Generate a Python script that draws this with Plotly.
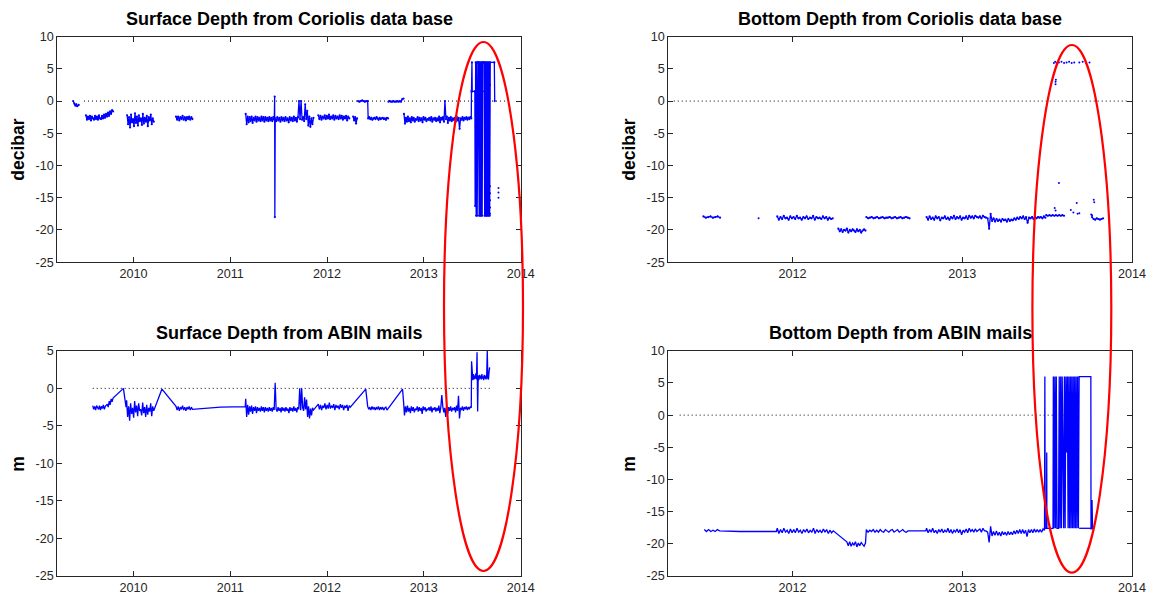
import numpy as np
import plotly.graph_objects as go

# ---------------------------------------------------------------- figure frame
W, H = 1162, 594
BLUE = "#0000FF"
INK = "#262626"
RED = "#FF0000"

# axis ticks / labels
YEARS_LEFT = [2010, 2011, 2012, 2013, 2014]
YEARS_RIGHT = [2012, 2013, 2014]
DEPTH_TICKS_35 = [10, 5, 0, -5, -10, -15, -20, -25]
DEPTH_TICKS_30 = [5, 0, -5, -10, -15, -20, -25]

TITLES = [
    "Surface Depth from Coriolis data base",
    "Bottom Depth from Coriolis data base",
    "Surface Depth from ABIN mails",
    "Bottom Depth from ABIN mails",
]
YLABELS = ["decibar", "decibar", "m", "m"]

# ------------------------------------------------ surface depth, Coriolis (dbar)
SC_BLIP_T = [2009.378, 2009.39, 2009.40, 2009.41, 2009.42, 2009.435]
SC_BLIP_V = [0.0, -0.4, -0.7, -0.5, -0.8, -0.6]
SC_B = [-2.2, -2.9, -2.4, -2.8, -2.3, -3.0, -2.4, -2.7, -2.9, -2.3, -2.8, -2.4, -2.9, -2.2,
        -2.7, -2.8, -2.3, -2.7, -2.1, -2.6, -2.0, -2.4, -1.8, -2.3, -1.6, -2.0, -1.4, -1.6]
SC_C = [-2.2, -3.6, -2.5, -4.1, -2.1, -3.3, -2.8, -3.9, -1.9, -3.4, -2.4, -3.8, -2.2, -3.1,
        -2.7, -3.7, -2.0, -3.5, -2.6, -3.2, -2.3, -3.9, -2.5, -3.0, -2.1, -3.6, -2.7, -3.2]
SC_D = [-2.4, -2.9, -2.4, -3.0, -2.5, -2.8, -2.3, -2.9, -2.5, -3.0, -2.5, -2.8, -2.4, -2.9,
        -2.5, -2.8]
SC_E1 = [-2.0, -3.6, -2.4, -3.3, -2.5, -3.1, -2.4, -3.4, -2.6, -3.0, -2.4, -3.2, -2.5, -3.0,
         -2.6, -3.1, -2.4, -3.0, -2.5, -3.2, -2.5, -3.0, -2.6, -3.1, -2.5, -3.0, -2.6, -3.1,
         -2.5, -2.9]
SC_SPIKE_T = [2011.459, 2011.461]
SC_SPIKE_V = [0.7, -18.0]
SC_E2 = [-2.7, -3.1, -2.5, -3.0, -2.6, -3.2, -2.5, -3.0, -2.6, -3.1, -2.5, -3.0, -2.7, -3.3,
         -2.5, -3.0, -2.6, -3.1, -2.4, -3.0, -2.6, -3.2, -2.5, 0.0, -2.8, 0.0, -2.9, -2.5,
         -3.1, -0.5, -2.8, -1.5, -3.8, -2.4, -4.0, -2.7, -3.6, -2.6]
SC_F = [-2.2, -2.8, -2.3, -2.9, -2.4, -2.7, -2.2, -2.8, -2.3, -2.7, -2.1, -2.8, -2.4, -2.7,
        -2.2, -2.9, -2.3, -2.7, -2.4, -2.8, -2.2, -2.7, -2.3, -2.9, -2.4, -2.7, -2.3, -3.0,
        -2.4, -2.7]
SC_G_T = [2012.27, 2012.28, 2012.29, 2012.30, 2012.31]
SC_G_V = [-2.4, -3.0, -2.5, -3.5, -2.7]
SC_H0 = [0.0, -0.1, 0.0, 0.1, 0.0, -0.1, 0.0, 0.0]
SC_H1 = [-2.7, -2.5, -2.8, -2.6, -2.9, -2.7, -2.6, -2.8, -2.5, -2.7, -2.9, -2.6, -2.8, -2.7,
         -2.6, -2.8, -2.7, -2.9, -2.6, -2.7]
SC_I = [-0.1, 0.0, -0.1, -0.1, 0.0, -0.1, -0.1, 0.0, -0.1, 0.0, -0.1, 0.3, 0.4]
SC_J = [-2.0, -3.5, -2.6, -3.2, -2.4, -3.1, -2.7, -3.3, -2.5, -3.0, -2.6, -3.2, -2.8, -2.9,
        -2.5, -3.1, -2.6, -3.0, -2.7, -3.3, -2.5, -2.9, -2.6, -3.1, -2.8, -2.9, -2.6, -3.0,
        -2.5, -3.2, -2.7, -2.9, -2.6, -3.1, -2.7, -3.0, -2.4, -3.3, -2.6, -2.9, -2.5, -3.2,
        0.0, -2.8, -2.4, -3.4, -2.6, -3.0, -2.5, -3.1, -2.7, -2.9, -2.6, -3.2, -2.4, -3.0,
        -2.6, -4.3, -2.7, -2.9, -2.5, -3.0, -2.6, -2.8, -2.5, -2.9, -2.6, -2.8, -2.5, -2.7]
SC_K_T = [2013.492, 2013.497, 2013.500, 2013.527]
SC_K_V = [1.5, 6.0, 1.5, 1.5]
SC_BARS = [-16.3, 6.0, -17.8, 6.0, -17.8, 6.0, 6.0, 6.0, -17.8, 6.0, -17.8, 6.0, -17.8, 6.0,
           -17.8, 6.0, 6.0, 6.0, 6.0, -17.8, 6.0, -17.8, 6.0, -17.8, 6.0, -17.8, 6.0, -17.8,
           6.0, -17.8]
SC_END_T = [2013.683, 2013.686, 2013.728, 2013.732]
SC_END_V = [2.5, 6.0, 6.0, 0.0]
SC_FLAT_T = [2013.527, 2013.665]
SC_FLAT_V = [1.5, 1.5]
SC_DOTS_T = [2013.684, 2013.684, 2013.684, 2013.684, 2013.684, 2013.771, 2013.771, 2013.771]
SC_DOTS_V = [-13.2, -14.3, -15.4, -16.5, -17.5, -13.5, -14.2, -15.0]
SC_ZERO_T = [2009.49, 2013.87]

# ---------------------------------------------------- surface depth, ABIN (m)
SA_1 = [-2.3, -2.8, -2.4, -2.9, -2.3, -2.7, -2.8, -2.3, -2.9, -2.4, -2.7, -2.2, -2.8, -2.4,
        -2.3, -2.1, -2.5, -1.7, -2.2, -1.4, -1.8, -1.3]
SA_R1_T = [2009.897, 2009.924]
SA_R1_V = [0.0, -2.5]
SA_2 = [-1.6, -3.8, -2.4, -4.3, -2.0, -3.4, -2.6, -3.9, -1.7, -3.2, -2.3, -3.7, -2.0, -3.0,
        -2.8, -3.6, -1.9, -3.3, -2.5, -3.8, -2.2, -3.5, -2.6, -3.1, -2.0, -3.7, -2.4, -3.0]
SA_R2_T = [2010.295]
SA_R2_V = [-0.1]
SA_3 = [-2.4, -2.9, -2.4, -3.0, -2.5, -2.8, -2.3, -2.9, -2.5, -3.0, -2.5, -2.8, -2.4, -2.9,
        -2.5, -2.8]
SA_FLAT_T = [2010.90, 2011.155]
SA_FLAT_V = [-2.5, -2.45]
SA_4 = [-1.4, -3.8, -2.2, -3.5, -2.4, -3.1, -2.3, -3.4, -2.5, -3.0, -2.4, -3.3, -2.5, -3.0,
        -2.6, -3.1, -2.4, -3.0, -2.5, -3.2, -2.5, -3.0, -2.6, -3.1, -2.5, -3.0, -2.6, -3.1,
        -2.5, -2.9, 0.75, -2.8, -3.1, -2.5, -3.0, -2.6, -3.2, -2.5, -3.0, -2.6, -3.1, -2.5,
        -3.0, -2.7, -3.3, -2.5, -3.0, -2.6, -3.1, -2.4, -3.0, -2.6, -3.2, -2.5, -2.8, 0.0,
        -2.9, 0.0, -2.6, -3.0, -1.2, -2.8, -1.5, -3.8, -2.4, -4.0, -2.7, -3.6, -2.6, -2.9]
SA_5 = [-2.1, -2.8, -2.2, -2.9, -2.3, -2.6, -2.0, -2.8, -2.2, -2.7, -1.9, -2.7, -2.3, -2.6,
        -2.1, -2.9, -2.2, -2.6, -2.3, -2.8, -2.1, -2.6, -2.2, -2.9, -2.3, -2.6, -2.2, -3.0,
        -2.3, -2.5]
SA_R3_T = [2012.40]
SA_R3_V = [-0.1]
SA_6 = [-2.4, -2.8, -2.5, -2.9, -2.4, -2.8, -2.5, -2.9, -2.5, -2.8, -2.4, -2.9, -2.5, -2.8,
        -2.5, -2.9, -2.6, -2.5, -2.9, -2.7]
SA_R4_T = [2012.78]
SA_R4_V = [-0.1]
SA_7 = [-1.7, -3.6, -2.4, -3.2, -2.3, -3.1, -2.6, -3.3, -2.4, -3.0, -2.5, -3.2, -2.7, -2.9,
        -2.4, -3.1, -2.5, -3.0, -2.6, -3.4, -2.4, -2.9, -2.5, -3.1, -2.7, -2.9, -2.5, -3.0,
        -2.4, -3.2, -2.6, -2.9, -2.5, -3.1, -2.6, -3.0, -2.3, -3.3, -2.5, -0.9, -2.4, -3.2,
        -2.6, -3.8, -2.3, -3.4, -2.5, -3.0, -2.4, -3.1, -2.6, -2.9, -2.5, -3.2, -2.3, -3.0,
        -1.0, -4.0, -2.6, -2.9, -2.4, -3.0, -2.5, -2.8, -2.4, -2.9, -2.5, -2.8, -2.4, -2.6]
SA_JUMP_T = [2013.493]
SA_JUMP_V = [3.6]
SA_8 = [1.5, 1.1, 1.9, 1.2, 1.7, 1.3, 2.0, 1.2, 4.8, -3.1, 1.7, 1.1, 1.8, 1.3, 1.7, 1.2,
        1.9, 1.3, 1.6, 1.1, 1.8, 1.3, 1.7, 1.2, 1.6, 5.0, 1.3, 1.2, 2.2, 2.8]
SA_ZERO_T = [2009.58, 2013.683]

# ------------------------------------------------- bottom depth, Coriolis (dbar)
BC_1 = [-17.9, -18.1, -18.0, -17.9, -18.1, -18.0, -17.9, -18.1]
BC_DOT_T = [2011.80]
BC_DOT_V = [-18.2]
BC_2 = [-17.9, -18.4, -18.0, -18.3, -17.8, -18.2, -18.1, -18.4, -17.9, -18.2, -18.0, -18.3,
        -17.8, -18.2, -18.1, -18.4, -18.0, -18.2, -17.9, -18.3, -18.1, -18.2, -17.8, -18.4,
        -18.0, -18.2, -18.1, -18.3, -17.9, -18.2, -18.0, -18.4, -18.1, -18.3, -18.2]
BC_3 = [-19.8, -20.2, -19.9, -20.3, -20.0, -20.1, -19.8, -20.4, -20.0, -20.2, -19.9, -20.1,
        -20.3, -19.9, -20.2, -20.0, -20.4, -20.1, -19.9, -20.1]
BC_4 = [-18.0, -18.2, -18.1, -18.0, -18.2, -18.1, -18.0, -18.2, -18.1, -18.0, -18.2, -18.1,
        -18.1, -18.0, -18.2, -18.1, -18.0, -18.2, -18.1, -18.0, -18.2, -18.1, -18.0, -18.1,
        -18.2]
BC_5 = [-18.0, -18.4, -17.9, -18.3, -18.1, -18.4, -17.9, -18.2, -18.0, -18.5, -18.1, -18.2,
        -17.9, -18.3, -18.1, -18.4, -18.0, -18.2, -17.8, -18.3, -18.0, -18.2, -17.9, -18.4,
        -18.1, -18.2, -17.9, -18.3, -17.8, -18.1, -17.9, -18.2, -17.8, -18.0, -18.1, -17.9,
        -18.2, -17.8, -18.0, -18.1]
BC_6 = [-18.2, -19.8, -17.5, -18.6, -18.2, -18.7, -18.3, -18.6, -18.4, -18.7, -18.3, -18.5,
        -18.4, -18.7, -18.3, -18.6, -18.4, -18.5, -18.2, -18.4, -18.1, -18.3, -18.0, -18.2,
        -17.9, -18.3, -18.0, -18.9, -18.1, -18.2, -18.0, -18.3, -17.9, -18.2, -18.0, -18.1,
        -18.0, -18.2, -17.9, -18.1]
BC_7 = [-17.7, -17.8, -17.7, -17.8, -17.7, -17.8, -17.7, -17.8, -17.7, -17.8, -17.7, -17.8]
BC_8 = [-18.0, -18.3, -18.4, -18.2, -18.3, -18.4, -18.3, -18.2]
BC_PTS_T = [2013.540, 2013.548, 2013.556, 2013.570, 2013.585, 2013.600, 2013.615, 2013.630,
            2013.645, 2013.660, 2013.690, 2013.710, 2013.730, 2013.750,
            2013.550, 2013.550, 2013.552, 2013.570, 2013.545, 2013.550, 2013.640, 2013.655,
            2013.675, 2013.680, 2013.690, 2013.775, 2013.778, 2013.760, 2013.765]
BC_PTS_V = [5.9, 6.1, 5.9, 6.0, 6.1, 5.9, 6.0, 6.1,
            5.9, 6.0, 6.0, 6.1, 5.9, 6.0,
            2.6, 3.0, 3.3, -12.7, -16.6, -17.0, -16.9, -17.3,
            -15.8, -17.5, -17.4, -15.3, -15.7, -17.6, -17.7]
BC_ZERO_T = [2011.30, 2013.97]

# ----------------------------------------------------- bottom depth, ABIN (m)
BA_1 = [-17.8, -18.1, -17.8, -18.1, -17.9, -18.1, -17.8, -18.0]
BA_L1_T = [2011.69, 2011.80, 2011.81, 2011.905]
BA_L1_V = [-18.1, -18.0, -18.1, -18.1]
BA_2 = [-17.6, -18.4, -17.8, -18.3, -17.6, -18.2, -17.9, -18.4, -17.7, -18.3, -17.8, -18.3,
        -17.6, -18.2, -17.9, -18.4, -17.8, -18.2, -17.7, -18.3, -17.9, -18.2, -17.6, -18.4,
        -17.8, -18.2, -17.9, -18.3, -17.7, -18.2, -17.8, -18.4, -17.9, -18.3, -18.0]
BA_3 = [-19.7, -20.3, -19.7, -20.4, -19.9, -20.2, -19.7, -20.5, -19.9, -20.3, -19.8, -20.2,
        -20.4, -19.9]
BA_4 = [-17.8, -18.2, -17.9, -18.1, -17.8, -18.2, -17.9, -18.2, -17.8, -18.1, -18.2, -17.8,
        -18.0, -18.2, -17.9, -17.8, -18.2, -18.0, -17.8, -18.2, -18.0, -17.8, -18.1, -18.2,
        -18.0]
BA_L2_T = [2012.785]
BA_L2_V = [-18.0]
BA_5 = [-17.6, -18.3, -17.8, -18.2, -17.6, -18.3, -17.9, -18.4, -17.8, -18.2, -17.7, -18.3,
        -17.9, -18.2, -17.6, -18.3, -17.8, -18.4, -17.9, -18.2, -17.7, -18.3, -17.8, -18.6,
        -17.9, -18.2, -17.7, -18.3, -17.6, -18.1, -17.8, -18.2, -17.7, -18.1, -17.9, -17.7,
        -18.2, -17.6, -18.0, -18.0]
BA_6 = [-18.2, -19.8, -17.3, -18.8, -18.1, -18.7, -18.0, -18.7, -18.2, -18.8, -18.1, -18.6,
        -18.2, -18.7, -18.1, -18.6, -18.2, -18.6, -18.0, -18.5, -17.9, -18.4, -17.8, -18.4,
        -17.8, -18.4, -17.9, -18.9, -17.8, -18.3, -17.8, -18.3, -17.7, -18.2, -17.8, -18.2,
        -17.8, -18.2, -17.7, -17.9]
BA_7_T = [2013.487, 2013.489, 2013.497, 2013.498, 2013.499, 2013.535]
BA_7_V = [6.0, -17.6, -17.6, -5.8, -17.6, -17.6]
BA_BARS = [6.0, -17.6, 6.0, -17.6, 6.0, -17.6, -17.6, -17.6, 6.0, -17.6, 6.0, -17.6, 6.0,
           -17.6, -17.6, 6.0, -17.6, 6.0, -5.8, 6.0, -17.6, 6.0, -17.6, 6.0, -17.6, 6.0,
           -17.6, 6.0, -17.6, 6.0, -17.6, 6.0, -17.6, 6.0, -17.6, 6.0]
BA_END_T = [2013.758, 2013.759, 2013.763, 2013.765, 2013.768]
BA_END_V = [6.0, -17.7, -17.7, -13.2, -17.7]
BA_FLAT_T = [2013.689, 2013.758]
BA_FLAT_V = [-17.6, -17.6]
BA_ZERO_T = [2011.335, 2013.66]


# ------------------------------------------------------------------ helpers
def run(t0, t1, vals):
    """Regularly sampled stretch of readings between t0 and t1."""
    return list(np.linspace(t0, t1, len(vals))), list(vals)


def pts(ts, vs):
    return list(ts), list(vs)


def assemble(pieces):
    """Each piece is a list of parts drawn as one polyline; pieces are split by gaps."""
    xs, ys = [], []
    for i, piece in enumerate(pieces):
        if i:
            xs.append(None)
            ys.append(None)
        for t, v in piece:
            xs += t
            ys += v
    return xs, ys


surf_coriolis = assemble([
    [pts(SC_BLIP_T, SC_BLIP_V)],
    [run(2009.51, 2009.79, SC_B)],
    [run(2009.935, 2010.21, SC_C)],
    [run(2010.44, 2010.61, SC_D)],
    [run(2011.16, 2011.455, SC_E1), pts(SC_SPIKE_T, SC_SPIKE_V), run(2011.465, 2011.86, SC_E2)],
    [run(2011.91, 2012.23, SC_F)],
    [pts(SC_G_T, SC_G_V)],
    [run(2012.32, 2012.42, SC_H0), run(2012.425, 2012.63, SC_H1)],
    [run(2012.635, 2012.79, SC_I)],
    [run(2012.795, 2013.49, SC_J), pts(SC_K_T, SC_K_V), run(2013.53, 2013.68, SC_BARS),
     pts(SC_END_T, SC_END_V)],
    [pts(SC_FLAT_T, SC_FLAT_V)],
])

surf_abin = assemble([
    [run(2009.58, 2009.79, SA_1), pts(SA_R1_T, SA_R1_V), run(2009.93, 2010.21, SA_2),
     pts(SA_R2_T, SA_R2_V), run(2010.44, 2010.61, SA_3), pts(SA_FLAT_T, SA_FLAT_V),
     run(2011.16, 2011.86, SA_4), run(2011.91, 2012.24, SA_5), pts(SA_R3_T, SA_R3_V),
     run(2012.42, 2012.63, SA_6), pts(SA_R4_T, SA_R4_V), run(2012.79, 2013.49, SA_7),
     pts(SA_JUMP_T, SA_JUMP_V), run(2013.50, 2013.68, SA_8)],
])

bot_coriolis = assemble([
    [run(2011.475, 2011.573, BC_1)],
    [run(2011.91, 2012.237, BC_2)],
    [run(2012.27, 2012.43, BC_3)],
    [run(2012.435, 2012.69, BC_4)],
    [run(2012.79, 2013.14, BC_5)],
    [run(2013.15, 2013.49, BC_6)],
    [run(2013.495, 2013.60, BC_7)],
    [run(2013.765, 2013.83, BC_8)],
])

bot_abin = assemble([
    [run(2011.48, 2011.57, BA_1), pts(BA_L1_T, BA_L1_V), run(2011.91, 2012.24, BA_2),
     run(2012.32, 2012.43, BA_3), run(2012.435, 2012.68, BA_4), pts(BA_L2_T, BA_L2_V),
     run(2012.79, 2013.14, BA_5), run(2013.15, 2013.485, BA_6), pts(BA_7_T, BA_7_V),
     run(2013.537, 2013.689, BA_BARS), pts(BA_END_T, BA_END_V)],
    [pts(BA_FLAT_T, BA_FLAT_V)],
])

# ------------------------------------------------------------------ layout
# panel boxes in pixels: left, right, top, bottom
COL_L = (57.3, 520.7)
COL_R = (668.3, 1132.0)
ROW_T = (36.5, 262.3)
ROW_B = (350.7, 576.0)


def xdom(col):
    return [col[0] / W, col[1] / W]


def ydom(row):
    return [1 - row[1] / H, 1 - row[0] / H]


TICKFONT = dict(family="Liberation Sans, Arial, sans-serif", size=12.6, color=INK)


def axis_style(ticks, rng, dom, anchor):
    return dict(
        domain=dom, range=rng, anchor=anchor,
        tickmode="array", tickvals=ticks, ticktext=[str(t) for t in ticks],
        showline=True, mirror="ticks", linecolor=INK, linewidth=1,
        ticks="inside", ticklen=5, tickwidth=1, tickcolor=INK,
        showgrid=False, zeroline=False, tickfont=TICKFONT,
        automargin=False, fixedrange=True,
    )


LEFT_RANGE = [2009.214, 2014.0005]
RIGHT_RANGE = [2011.268, 2014.0005]

fig = go.Figure()

dotted = dict(color="#000000", width=1, dash="1px,3px")

# (x axis, y axis, series, zero-line span, draw sample dots)
panels = [
    ("x", "y", surf_coriolis, SC_ZERO_T, True),
    ("x2", "y2", bot_coriolis, BC_ZERO_T, True),
    ("x3", "y3", surf_abin, SA_ZERO_T, False),
    ("x4", "y4", bot_abin, BA_ZERO_T, False),
]
for xa, ya, (xs, ys), zt, dots in panels:
    fig.add_trace(go.Scatter(x=zt, y=[0, 0], mode="lines", line=dotted,
                             xaxis=xa, yaxis=ya, hoverinfo="skip"))
    fig.add_trace(go.Scatter(x=xs, y=ys, mode="lines+markers" if dots else "lines",
                             line=dict(color=BLUE, width=1.3),
                             marker=dict(color=BLUE, size=2.2),
                             connectgaps=False, xaxis=xa, yaxis=ya))

fig.add_trace(go.Scatter(x=SC_DOTS_T, y=SC_DOTS_V, mode="markers",
                         marker=dict(color=BLUE, size=2), xaxis="x", yaxis="y"))
fig.add_trace(go.Scatter(x=BC_DOT_T + BC_PTS_T, y=BC_DOT_V + BC_PTS_V, mode="markers",
                         marker=dict(color=BLUE, size=2), xaxis="x2", yaxis="y2"))

fig.update_layout(
    width=W, height=H, template="none",
    margin=dict(l=0, r=0, t=0, b=0),
    paper_bgcolor="white", plot_bgcolor="white",
    showlegend=False,
    xaxis=axis_style(YEARS_LEFT, LEFT_RANGE, xdom(COL_L), "y"),
    yaxis=axis_style(DEPTH_TICKS_35, [-25.02, 10.02], ydom(ROW_T), "x"),
    xaxis2=axis_style(YEARS_RIGHT, RIGHT_RANGE, xdom(COL_R), "y2"),
    yaxis2=axis_style(DEPTH_TICKS_35, [-25.02, 10.02], ydom(ROW_T), "x2"),
    xaxis3=axis_style(YEARS_LEFT, LEFT_RANGE, xdom(COL_L), "y3"),
    yaxis3=axis_style(DEPTH_TICKS_30, [-25.02, 5.02], ydom(ROW_B), "x3"),
    xaxis4=axis_style(YEARS_RIGHT, RIGHT_RANGE, xdom(COL_R), "y4"),
    yaxis4=axis_style(DEPTH_TICKS_35, [-25.02, 10.02], ydom(ROW_B), "x4"),
)

# panel titles and y-axis labels
BOLD = dict(family="Liberation Sans, Arial, sans-serif", color="#000000")
boxes = [(COL_L, ROW_T), (COL_R, ROW_T), (COL_L, ROW_B), (COL_R, ROW_B)]
for (col, row), title, ylab in zip(boxes, TITLES, YLABELS):
    cx = (col[0] + col[1]) / 2
    fig.add_annotation(x=cx / W, y=1 - (row[0] - 17.5) / H, xref="paper", yref="paper",
                       text="<b>%s</b>" % title, showarrow=False,
                       xanchor="center", yanchor="middle", font=dict(size=18, **BOLD))
    fig.add_annotation(x=(col[0] - 39) / W, y=1 - (row[0] + row[1]) / 2 / H,
                       xref="paper", yref="paper", text="<b>%s</b>" % ylab,
                       showarrow=False, textangle=-90, xanchor="center", yanchor="middle",
                       font=dict(size=17.5, **BOLD))

# red highlight ellipses around the late-2013 readings
for x0, x1, y0, y1 in [(444, 523, 42, 571), (1032.4, 1111.3, 45, 572.7)]:
    fig.add_shape(type="circle", xref="paper", yref="paper",
                  x0=x0 / W, x1=x1 / W, y0=1 - y1 / H, y1=1 - y0 / H,
                  line=dict(color=RED, width=2.2), layer="above")

fig.write_html("out.html")
